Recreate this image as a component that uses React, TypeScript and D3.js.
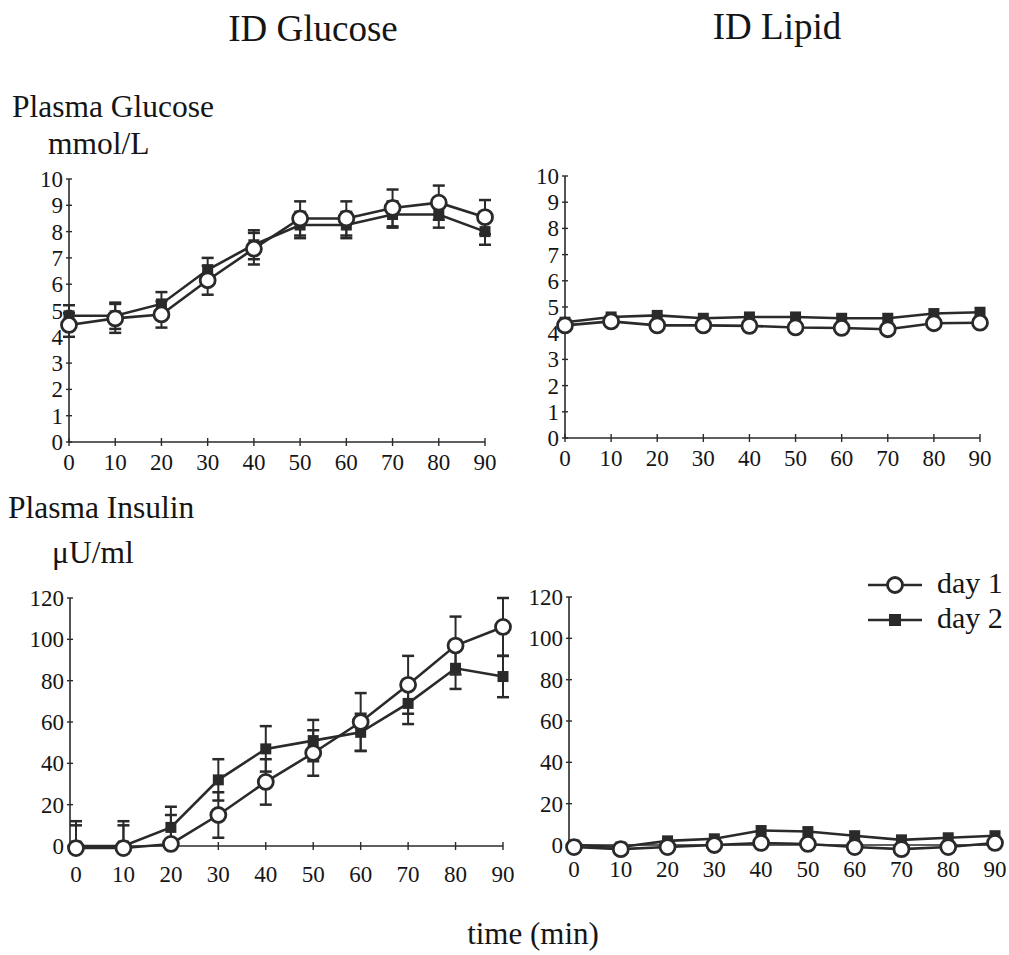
import React from "react";
import * as d3 from "d3";

const times = [0, 10, 20, 30, 40, 50, 60, 70, 80, 90];
const glucoseTicks = [0, 1, 2, 3, 4, 5, 6, 7, 8, 9, 10];
const insulinTicks = [0, 20, 40, 60, 80, 100, 120];

const glucIDGDay1 = [4.45, 4.7, 4.85, 6.15, 7.35, 8.5, 8.5, 8.9, 9.1, 8.55];
const glucIDGDay1Err = [0.45, 0.55, 0.5, 0.55, 0.6, 0.65, 0.65, 0.7, 0.65, 0.65];
const glucIDGDay2 = [4.8, 4.8, 5.25, 6.55, 7.5, 8.25, 8.25, 8.65, 8.65, 8.0];
const glucIDGDay2Err = [0.4, 0.5, 0.45, 0.45, 0.55, 0.5, 0.5, 0.5, 0.5, 0.5];

const glucIDLDay1 = [4.3, 4.45, 4.3, 4.3, 4.28, 4.22, 4.2, 4.15, 4.38, 4.4];
const glucIDLDay2 = [4.42, 4.62, 4.68, 4.57, 4.62, 4.62, 4.57, 4.57, 4.75, 4.8];

const insIDGDay1 = [-1, -1, 1, 15, 31, 45, 60, 78, 97, 106];
const insIDGDay1Err = [13, 13, 14, 11, 11, 11, 14, 14, 14, 14];
const insIDGDay2 = [0, 0, 9, 32, 47, 51, 55, 69, 86, 82];
const insIDGDay2Err = [10, 10, 10, 10, 11, 10, 9, 10, 10, 10];

const insIDLDay1 = [-1, -2, -1, 0, 1, 0.5, -1, -2, -1, 1];
const insIDLDay2 = [0, -1, 2, 3, 7, 6.5, 4.5, 2.5, 3.5, 4.5];

const INK = "#2a2a2a";
const TXT = "#151515";
const FONT = "'Liberation Serif', 'Times New Roman', serif";

type PanelProps = {
  axisX: number;
  x0: number;
  x1: number;
  yBottom: number;
  yTop: number;
  yMax: number;
  yTicks: number[];
  day1: number[];
  day2: number[];
  err1?: number[];
  err2?: number[];
  labelY: number;
};

function Panel(p: PanelProps) {
  const x = d3.scaleLinear().domain([0, 90]).range([p.x0, p.x1]);
  const y = d3.scaleLinear().domain([0, p.yMax]).range([p.yBottom, p.yTop]);
  const line = d3
    .line<number>()
    .x((_, i) => x(times[i]))
    .y((v) => y(v));
  const cap = 6;
  const errBars = (vals: number[], errs?: number[]) =>
    errs
      ? vals.map((v, i) => {
          const cx = x(times[i]);
          const rawLo = y(v - errs[i]);
          const clipped = rawLo > p.yBottom;
          const lo = clipped ? p.yBottom : rawLo;
          const hi = y(v + errs[i]);
          return (
            <g key={i} stroke={INK} strokeWidth={2}>
              <line x1={cx} x2={cx} y1={lo} y2={hi} />
              <line x1={cx - cap} x2={cx + cap} y1={hi} y2={hi} strokeWidth={2.5} />
              {clipped ? null : (
                <line x1={cx - cap} x2={cx + cap} y1={lo} y2={lo} strokeWidth={2.5} />
              )}
            </g>
          );
        })
      : null;
  return (
    <g>
      <line x1={p.axisX} x2={p.axisX} y1={p.yBottom} y2={p.yTop} stroke={INK} strokeWidth={1.6} />
      <line x1={p.axisX} x2={p.x1} y1={p.yBottom} y2={p.yBottom} stroke={INK} strokeWidth={1.6} />
      {p.yTicks.map((t) => (
        <g key={"y" + t}>
          <line x1={p.axisX - 3} x2={p.axisX + 3} y1={y(t)} y2={y(t)} stroke={INK} strokeWidth={1.4} />
          <text x={p.axisX - 6} y={y(t)} dy="0.35em" textAnchor="end" fontFamily={FONT} fontSize={23} fill={TXT}>
            {t}
          </text>
        </g>
      ))}
      {times.map((t) => (
        <g key={"x" + t}>
          <line x1={x(t)} x2={x(t)} y1={p.yBottom - 4} y2={p.yBottom + 4} stroke={INK} strokeWidth={1.4} />
          <text x={x(t)} y={p.labelY} textAnchor="middle" fontFamily={FONT} fontSize={23} fill={TXT}>
            {t}
          </text>
        </g>
      ))}
      {errBars(p.day2, p.err2)}
      {errBars(p.day1, p.err1)}
      <path d={line(p.day2) || ""} fill="none" stroke={INK} strokeWidth={2.6} />
      <path d={line(p.day1) || ""} fill="none" stroke={INK} strokeWidth={2.6} />
      {p.day2.map((v, i) => (
        <rect key={"s" + i} x={x(times[i]) - 5.5} y={y(v) - 5.5} width={11} height={11} fill={INK} />
      ))}
      {p.day1.map((v, i) => (
        <circle key={"c" + i} cx={x(times[i])} cy={y(v)} r={7.5} fill="#fff" stroke={INK} strokeWidth={2.8} />
      ))}
    </g>
  );
}

export default function App() {
  return (
    <svg width={1009} height={955} style={{ display: "block", position: "absolute", left: 0, top: 0, background: "#fff" }}>
      <text x={313} y={41} textAnchor="middle" fontFamily={FONT} fontSize={37} fill={TXT}>ID Glucose</text>
      <text x={777} y={39} textAnchor="middle" fontFamily={FONT} fontSize={37} fill={TXT}>ID Lipid</text>
      <text x={12} y={117} fontFamily={FONT} fontSize={31.5} fill={TXT}>Plasma Glucose</text>
      <text x={48} y={154} fontFamily={FONT} fontSize={31.5} fill={TXT}>mmol/L</text>
      <text x={8} y={518} fontFamily={FONT} fontSize={31.5} fill={TXT}>Plasma Insulin</text>
      <text x={52} y={563} fontFamily={FONT} fontSize={31.5} fill={TXT}>μU/ml</text>
      <text x={533} y={944} textAnchor="middle" fontFamily={FONT} fontSize={31} fill={TXT}>time (min)</text>

      <Panel axisX={69} x0={69} x1={485} yBottom={442} yTop={179} yMax={10} yTicks={glucoseTicks}
        day1={glucIDGDay1} day2={glucIDGDay2} err1={glucIDGDay1Err} err2={glucIDGDay2Err} labelY={470} />
      <Panel axisX={565} x0={565} x1={980} yBottom={438} yTop={176} yMax={10} yTicks={glucoseTicks}
        day1={glucIDLDay1} day2={glucIDLDay2} labelY={466} />
      <Panel axisX={70} x0={76} x1={503} yBottom={846} yTop={598} yMax={120} yTicks={insulinTicks}
        day1={insIDGDay1} day2={insIDGDay2} err1={insIDGDay1Err} err2={insIDGDay2Err} labelY={882} />
      <Panel axisX={569} x0={574} x1={995} yBottom={845} yTop={597} yMax={120} yTicks={insulinTicks}
        day1={insIDLDay1} day2={insIDLDay2} labelY={877} />

      <g>
        <line x1={868} x2={922} y1={585} y2={585} stroke={INK} strokeWidth={2.6} />
        <circle cx={895} cy={585} r={7.5} fill="#fff" stroke={INK} strokeWidth={2.8} />
        <text x={937} y={593} fontFamily={FONT} fontSize={30} fill={TXT}>day 1</text>
        <line x1={868} x2={922} y1={620} y2={620} stroke={INK} strokeWidth={2.6} />
        <rect x={889} y={614} width={12} height={12} fill={INK} />
        <text x={937} y={628} fontFamily={FONT} fontSize={30} fill={TXT}>day 2</text>
      </g>
    </svg>
  );
}
